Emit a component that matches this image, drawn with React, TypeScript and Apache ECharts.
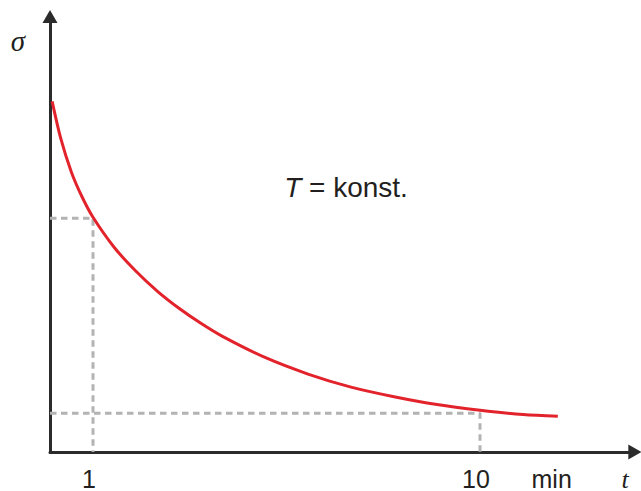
import React, { useEffect, useRef } from "react";
import * as echarts from "echarts";

// Curve sigma(t) (t in min, sigma in arbitrary units 0..100)
const tValues = [0.05, 0.25, 0.5, 0.75, 1, 1.5, 2, 2.5, 3, 3.5, 4, 5, 6, 7, 8, 9, 10, 11, 11.81];
const sigmaValues = [80.5, 72.0, 64.2, 58.5, 53.9, 46.9, 41.5, 36.9, 33.0, 29.6, 26.6, 21.7, 17.9, 14.9, 12.7, 10.9, 9.6, 8.6, 8.2];

// Dashed guide lines (t, sigma)
const guideT = [1, 10];
const guideSigma = [53.7, 8.9];

// X axis labels
const tickValues = [1, 10, 11.76];
const tickLabels = ["1", "10", "min"];

const xMax = 13.6;
const yMax = 100;

const AXIS_COLOR = "#2b2b2b";
const TEXT_COLOR = "#231f20";
const RED = "#e3232b";
const GREY = "#b3b3b3";

export default function App() {
  const ref = useRef<HTMLDivElement>(null);

  useEffect(() => {
    const chart = echarts.init(ref.current as HTMLDivElement, null, { renderer: "svg" });
    const curve = tValues.map((t, i) => [t, sigmaValues[i]]);
    const guides = guideT.map((t, i) => ({
      type: "line",
      silent: true,
      symbol: "none",
      z: 1,
      data: [
        [0, guideSigma[i]],
        [t, guideSigma[i]],
        [t, 0],
      ],
      lineStyle: { color: GREY, width: 3, type: [6.5, 4.5] },
    }));

    chart.setOption({
      animation: false,
      grid: { left: 50, top: 16.5, width: 584.8, height: 437.5 },
      xAxis: {
        type: "value",
        min: 0,
        max: xMax,
        axisLine: {
          show: true,
          onZero: false,
          symbol: ["none", "triangle"],
          symbolSize: [15, 13],
          lineStyle: { color: AXIS_COLOR, width: 3 },
        },
        axisTick: { show: false },
        splitLine: { show: false },
        axisLabel: {
          customValues: tickValues,
          formatter: (v: number) => {
            const i = tickValues.indexOf(v);
            return i >= 0 ? tickLabels[i] : "";
          },
          margin: 14,
          fontSize: 25,
          fontFamily: "'Liberation Sans', Arial, sans-serif",
          color: TEXT_COLOR,
          padding: [0, 8, 0, 0],
        },
      },
      yAxis: {
        type: "value",
        min: 0,
        max: yMax,
        axisLine: {
          show: true,
          onZero: false,
          symbol: ["none", "triangle"],
          symbolSize: [15, 13],
          lineStyle: { color: AXIS_COLOR, width: 3 },
        },
        axisTick: { show: false },
        splitLine: { show: false },
        axisLabel: { show: false },
      },
      series: [
        ...guides,
        {
          type: "line",
          silent: true,
          symbol: "none",
          smooth: 0.3,
          z: 3,
          data: curve,
          lineStyle: { color: RED, width: 3 },
        },
      ],
      graphic: [
        {
          type: "text",
          x: 18,
          y: 41,
          style: {
            text: "σ",
            fontSize: 29,
            fontStyle: "italic",
            fontFamily: "'Liberation Serif', 'DejaVu Serif', serif",
            fill: TEXT_COLOR,
            align: "center",
            verticalAlign: "middle",
          },
        },
        {
          type: "text",
          x: 625,
          y: 479,
          style: {
            text: "t",
            fontSize: 26,
            fontStyle: "italic",
            fontFamily: "'Liberation Serif', 'DejaVu Serif', serif",
            fill: TEXT_COLOR,
            align: "center",
            verticalAlign: "middle",
          },
        },
        {
          type: "text",
          x: 346,
          y: 187,
          style: {
            text: "{it|T} = konst.",
            fontSize: 28,
            fontFamily: "'Liberation Sans', Arial, sans-serif",
            fill: TEXT_COLOR,
            align: "center",
            verticalAlign: "middle",
            rich: {
              it: {
                fontSize: 28,
                fontStyle: "italic",
                fontFamily: "'Liberation Sans', Arial, sans-serif",
                fill: TEXT_COLOR,
              },
            },
          },
        },
      ],
    });

    return () => chart.dispose();
  }, []);

  return (
    <div
      ref={ref}
      style={{ position: "fixed", left: 0, top: 0, width: 641, height: 491, background: "#fff" }}
    />
  );
}
